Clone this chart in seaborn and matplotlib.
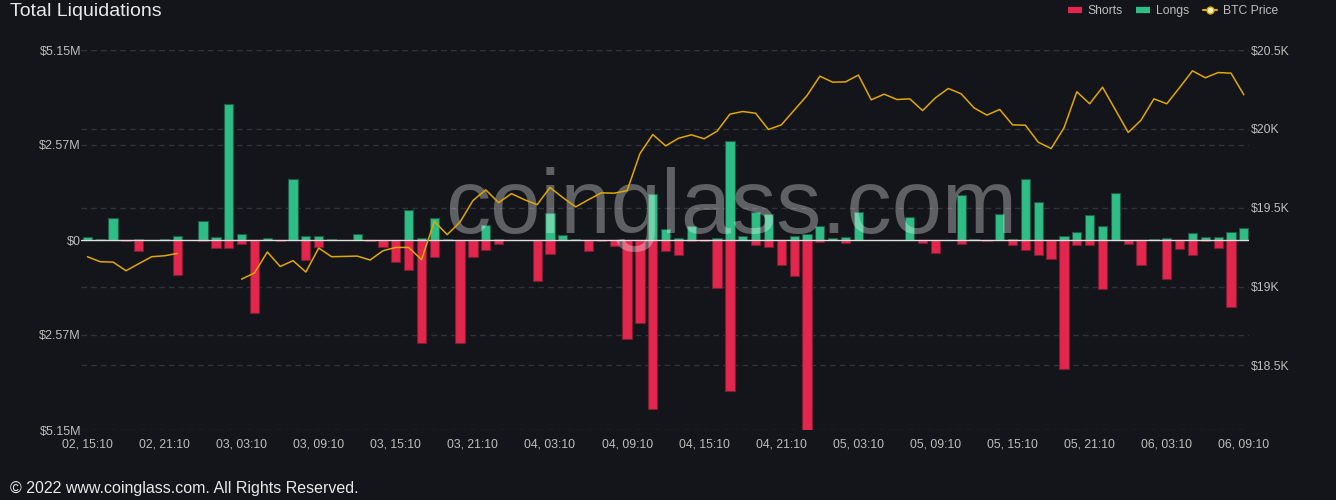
import numpy as np
import pandas as pd
import matplotlib
matplotlib.use("Agg")
import matplotlib.pyplot as plt
import seaborn as sns
from matplotlib.lines import Line2D

# hourly liquidations in millions USD, 02 15:10 -> 06 09:10
longs = [0.07, 0.02, 0.60, 0.00, 0.02, 0.01, 0.02, 0.10, 0.00, 0.52,
         0.09, 3.68, 0.15, 0.00, 0.06, 0.00, 1.64, 0.10, 0.12, 0.03,
         0.01, 0.15, 0.01, 0.00, 0.00, 0.81, 0.05, 0.60, 0.02, 0.00,
         0.00, 0.42, 0.02, 0.01, 0.01, 0.00, 0.72, 0.14, 0.02, 0.00,
         0.00, 0.00, 0.00, 0.00, 1.25, 0.31, 0.06, 0.38, 0.01, 0.05,
         2.68, 0.10, 0.76, 0.70, 0.01, 0.12, 0.16, 0.37, 0.05, 0.09,
         0.76, 0.00, 0.00, 0.01, 0.62, 0.00, 0.00, 0.01, 1.22, 0.03,
         0.00, 0.71, 0.03, 1.64, 1.02, 0.00, 0.11, 0.23, 0.68, 0.38,
         1.27, 0.00, 0.00, 0.02, 0.05, 0.01, 0.19, 0.08, 0.07, 0.23,
         0.32]
shorts = [0.00, 0.00, 0.00, 0.02, 0.31, 0.00, 0.00, 0.96, 0.00, 0.04,
          0.21, 0.23, 0.10, 1.97, 0.00, 0.02, 0.00, 0.53, 0.18, 0.00,
          0.00, 0.00, 0.04, 0.20, 0.59, 0.80, 2.80, 0.47, 0.00, 2.78,
          0.47, 0.28, 0.10, 0.00, 0.00, 1.12, 0.39, 0.00, 0.00, 0.29,
          0.02, 0.15, 2.68, 2.25, 4.59, 0.31, 0.42, 0.03, 0.04, 1.31,
          4.09, 0.00, 0.14, 0.18, 0.69, 0.98, 5.15, 0.05, 0.00, 0.09,
          0.00, 0.01, 0.01, 0.00, 0.00, 0.07, 0.36, 0.00, 0.12, 0.00,
          0.02, 0.00, 0.13, 0.26, 0.40, 0.51, 3.49, 0.14, 0.13, 1.33,
          0.00, 0.10, 0.68, 0.00, 1.06, 0.25, 0.42, 0.03, 0.21, 1.82,
          0.00]
btc_price = [19189, 19157, 19155, 19100, 19145, 19189, 19195, 19210, np.nan, np.nan,
             np.nan, np.nan, 19047, 19086, 19219, 19127, 19164, 19092, 19244, 19189,
             19191, 19193, 19168, 19227, 19248, 19248, 19170, 19413, 19329, 19409,
             19545, 19613, 19532, 19589, 19551, 19519, 19628, 19564, 19505, 19551,
             19594, 19592, 19608, 19843, 19964, 19892, 19940, 19962, 19937, 19985,
             20093, 20110, 20099, 19996, 20025, 20118, 20211, 20334, 20296, 20298,
             20341, 20184, 20220, 20186, 20190, 20116, 20197, 20256, 20222, 20133,
             20087, 20123, 20025, 20023, 19915, 19875, 20006, 20235, 20159, 20264,
             20121, 19977, 20055, 20190, 20159, 20262, 20368, 20324, 20357, 20353,
             20216]

left_ticks = [-5.15, -2.575, 0, 2.575, 5.15]
left_labels = ["$5.15M", "$2.57M", "$0", "$2.57M", "$5.15M"]
right_ticks = [18500, 19000, 19500, 20000, 20500]
right_labels = ["$18.5K", "$19K", "$19.5K", "$20K", "$20.5K"]

bg = "#14151a"
red = "#e2264d"
green = "#2ebd85"
gold = "#e0a800"
grid_c = "#323339"
txt_c = "#bdbdbd"

sns.set_theme(style="dark")
plt.rcParams["font.family"] = ["Liberation Sans", "DejaVu Sans"]

hours = pd.date_range("2022-10-02 15:10", periods=len(longs), freq="h")
df = pd.DataFrame({
    "pos": range(len(longs)),
    "longs": longs,
    "shorts": [-s for s in shorts],
    "price": btc_price,
})
df["segment"] = df["price"].isna().cumsum()

fig = plt.figure(figsize=(13.36, 5), dpi=100, facecolor=bg)
ax = fig.add_axes([81 / 1336, 0.14, (1249 - 81) / 1336, 0.76])
ax.set_facecolor(bg)

p_lo, p_hi = 18090, 20500
y_lo, y_hi = -5.15, 5.15

# grid lines of both axes, kept behind the bars
for v in [-5.15, -2.575, 2.575, 5.15]:
    ax.axhline(v, color=grid_c, lw=1, ls=(0, (4, 3)), zorder=0)
for p in right_ticks:
    v = y_lo + (p - p_lo) / (p_hi - p_lo) * (y_hi - y_lo)
    ax.axhline(v, color=grid_c, lw=1, ls=(0, (4, 3)), zorder=0)

sns.barplot(data=df, x="pos", y="longs", color=green, edgecolor="#1f5c46",
            linewidth=0.8, width=0.72, saturation=1, errorbar=None, ax=ax, zorder=2)
sns.barplot(data=df, x="pos", y="shorts", color=red, edgecolor="#7c1d31",
            linewidth=0.8, width=0.72, saturation=1, errorbar=None, ax=ax, zorder=2)
ax.axhline(0, color="#e0e0e0", lw=1, zorder=3)

# watermark
ax.text(731 / 1336, 1 - 233 / 500, "coinglass.com", transform=fig.transFigure,
        fontsize=65, color="white", alpha=0.32, ha="center", va="baseline", zorder=5)

ax.set_xlim(-0.5, 90.4)
ax.set_ylim(y_lo, y_hi)
ax.set_yticks(left_ticks)
ax.set_yticklabels(left_labels)
ax.set_xticks(range(0, len(longs), 6))
ax.set_xticklabels(hours[::6].strftime("%d, %H:%M"))
ax.tick_params(axis="x", colors=txt_c, labelsize=8.8, length=0, pad=6)
ax.tick_params(axis="y", colors=txt_c, labelsize=9, length=0, pad=0)
ax.set_xlabel("")
ax.set_ylabel("")
ax.grid(False)
for s in ax.spines.values():
    s.set_visible(False)

ax2 = ax.twinx()
sns.lineplot(data=df, x="pos", y="price", units="segment", estimator=None,
             color=gold, lw=1.1, ax=ax2)
ax2.set_ylim(p_lo, p_hi)
ax2.set_yticks(right_ticks)
ax2.set_yticklabels(right_labels)
ax2.tick_params(axis="y", colors=txt_c, labelsize=8.8, length=0, pad=1)
ax2.set_xlabel("")
ax2.set_ylabel("")
ax2.grid(False)
for s in ax2.spines.values():
    s.set_visible(False)
ax.set_xlim(-0.5, 90.4)

handles = [
    Line2D([], [], color=red, lw=4.5, solid_capstyle="butt"),
    Line2D([], [], color=green, lw=4.5, solid_capstyle="butt"),
    Line2D([], [], color=gold, lw=1.5, marker="o", markersize=5,
           markerfacecolor="#fff2c0", markeredgecolor=gold),
]
fig.legend(handles, ["Shorts", "Longs", "BTC Price"], loc="center right",
           bbox_to_anchor=(1278 / 1336, 1 - 11 / 500), ncol=3, frameon=False,
           fontsize=8.7, labelcolor=txt_c, handlelength=1.15, handletextpad=0.5,
           columnspacing=1.1, borderpad=0, borderaxespad=0)

fig.text(10 / 1336, 1 - 12 / 500, "Total Liquidations", fontsize=14,
         color="#e8e8e8", ha="left", va="center")
fig.text(10 / 1336, 1 - 489 / 500, "\u00a9 2022 www.coinglass.com. All Rights Reserved.",
         fontsize=11.55, color="#e8e8e8", ha="left", va="center")

fig.savefig("out.png", dpi=100, facecolor=bg)
